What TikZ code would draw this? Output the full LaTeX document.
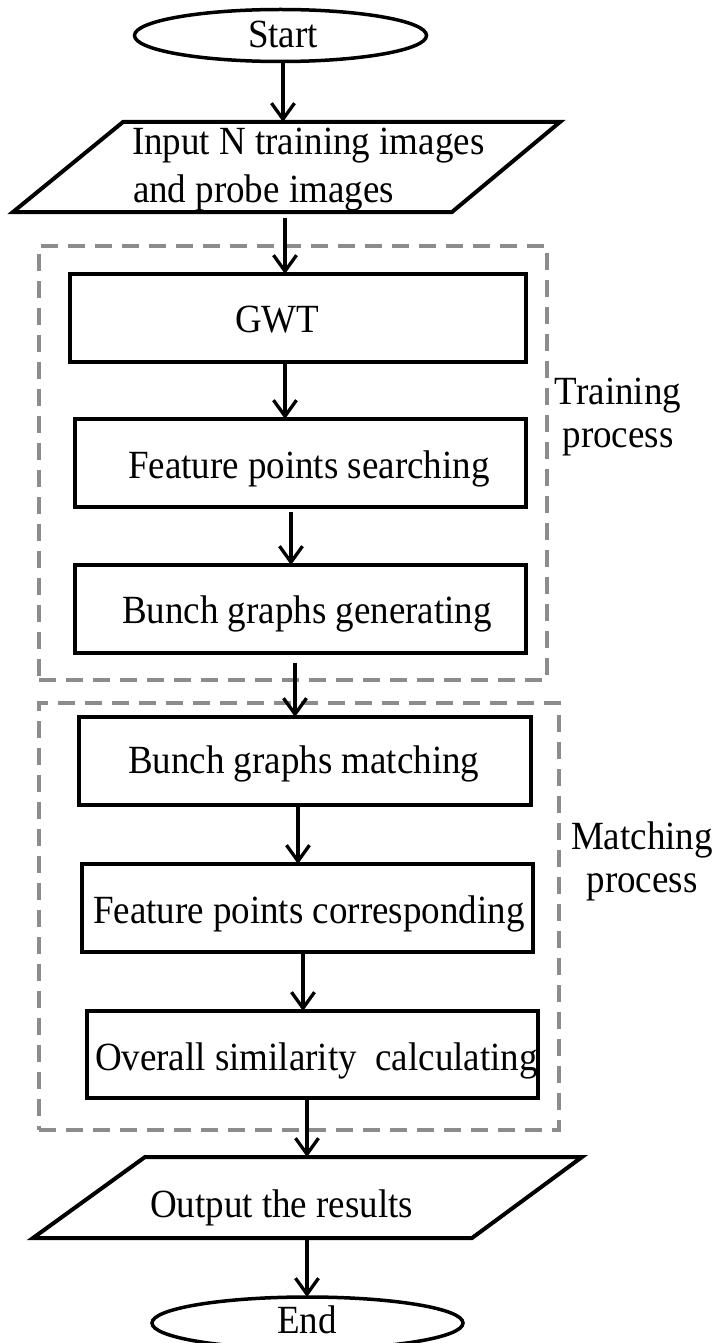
\documentclass[tikz,border=0pt]{standalone}
\usepackage{fontspec}
\setmainfont{Liberation Serif}[FakeStretch=0.925]
\usetikzlibrary{shapes.geometric,arrows.meta}
\begin{document}
\begin{tikzpicture}[x=1pt,y=-1pt,
  every node/.style={outer sep=0pt},
  box/.style={draw,line width=4pt,rectangle,minimum height=88pt},
  oval/.style={draw,line width=3.5pt,ellipse,minimum height=52pt},
  group/.style={draw=gray!90,line width=3.5pt,dash pattern=on 17pt off 10pt,rectangle},
  para/.style={draw=none,rectangle},
  txt/.style={anchor=base west,inner sep=0pt,font=\fontsize{40}{47}\selectfont},
  side/.style={anchor=base,inner sep=0pt,align=center,font=\fontsize{40}{43}\selectfont},
  arr/.style={line width=3.3pt,-{Straight Barb[length=16pt,width=23pt,line width=3.3pt]}}]
\useasboundingbox (0,0) rectangle (717,1343);
\fill[white] (0,0) rectangle (717,1343);

% dashed groups
\node[group,minimum width=508pt,minimum height=434pt] (train) at (293,463) {};
\node[group,minimum width=520pt,minimum height=427pt] (match) at (299,916.5) {};

% terminals
\node[oval,minimum width=292pt] (start) at (280.5,35.5) {};
\node[txt] (starttxt) at (248,48) {Start};
\node[oval,minimum width=311pt] (end) at (307.5,1323) {};
\node[txt] (endtxt) at (277,1333) {End};

% input parallelogram
\node[para,minimum width=437pt,minimum height=90pt] (inp) at (286.5,167) {};
\coordinate (i1) at (123,122); \coordinate (i2) at (560,122);
\coordinate (i3) at (452,212); \coordinate (i4) at (13,212);
\draw[line width=4pt,line join=miter] (i1) -- (i2) -- (i3) -- (i4) -- cycle;
\node[txt] (inptxt1) at (132,155) {Input N training images};
\node[txt] (inptxt2) at (133,202) {and probe images};

% output parallelogram
\node[para,minimum width=437pt,minimum height=81pt] (out) at (307.5,1197.5) {};
\coordinate (o1) at (145,1157); \coordinate (o2) at (582,1157);
\coordinate (o3) at (472,1238); \coordinate (o4) at (33,1238);
\draw[line width=4pt,line join=miter] (o1) -- (o2) -- (o3) -- (o4) -- cycle;
\node[txt] (outtxt) at (150,1217) {Output the results};

% process boxes
\node[box,minimum width=456pt] (gwt) at (298,318) {};
\node[txt] (gwttxt) at (235,332) {GWT};
\node[box,minimum width=451pt] (fps) at (300.5,463) {};
\node[txt] (fpstxt) at (128,478) {Feature points searching};
\node[box,minimum width=451pt] (bgg) at (300.5,609) {};
\node[txt] (bggtxt) at (122,623) {Bunch graphs generating};
\node[box,minimum width=452pt] (bgm) at (305,761) {};
\node[txt] (bgmtxt) at (128,773) {Bunch graphs matching};
\node[box,minimum width=451pt] (fpc) at (307.5,908) {};
\node[txt] (fpctxt) at (93,923) {Feature points corresponding};
\node[box,minimum width=451pt,minimum height=87pt] (osc) at (312.5,1054.5) {};
\node[txt] (osctxt) at (95,1070) {Overall similarity\ \ calculating};

% side labels
\node[side] (trainlbl) at (618,447) {Training\\process};
\node[side] (matchlbl) at (642,892) {Matching\\process};

% arrow columns
\coordinate (ax1) at (283,0);
\coordinate (ax2) at (285,0);
\coordinate (ax4) at (291,0);
\coordinate (ax5) at (295,0);
\coordinate (ax6) at (298,0);
\coordinate (ax7) at (303,0);
\coordinate (ax8) at (307,0);

\draw[arr] (start.south -| ax1) -- (inp.north -| ax1);
\draw[arr,shorten <=6pt] (inp.south -| ax2) -- (gwt.north -| ax2);
\draw[arr] (gwt.south -| ax2) -- (fps.north -| ax2);
\draw[arr,shorten <=5pt] (fps.south -| ax4) -- (bgg.north -| ax4);
\draw[arr,shorten <=10pt] (bgg.south -| ax5) -- (bgm.north -| ax5);
\draw[arr] (bgm.south -| ax6) -- (fpc.north -| ax6);
\draw[arr] (fpc.south -| ax7) -- (osc.north -| ax7);
\draw[arr] (osc.south -| ax8) -- (out.north -| ax8);
\draw[arr] (out.south -| ax8) -- (end.north -| ax8);
\end{tikzpicture}
\end{document}
